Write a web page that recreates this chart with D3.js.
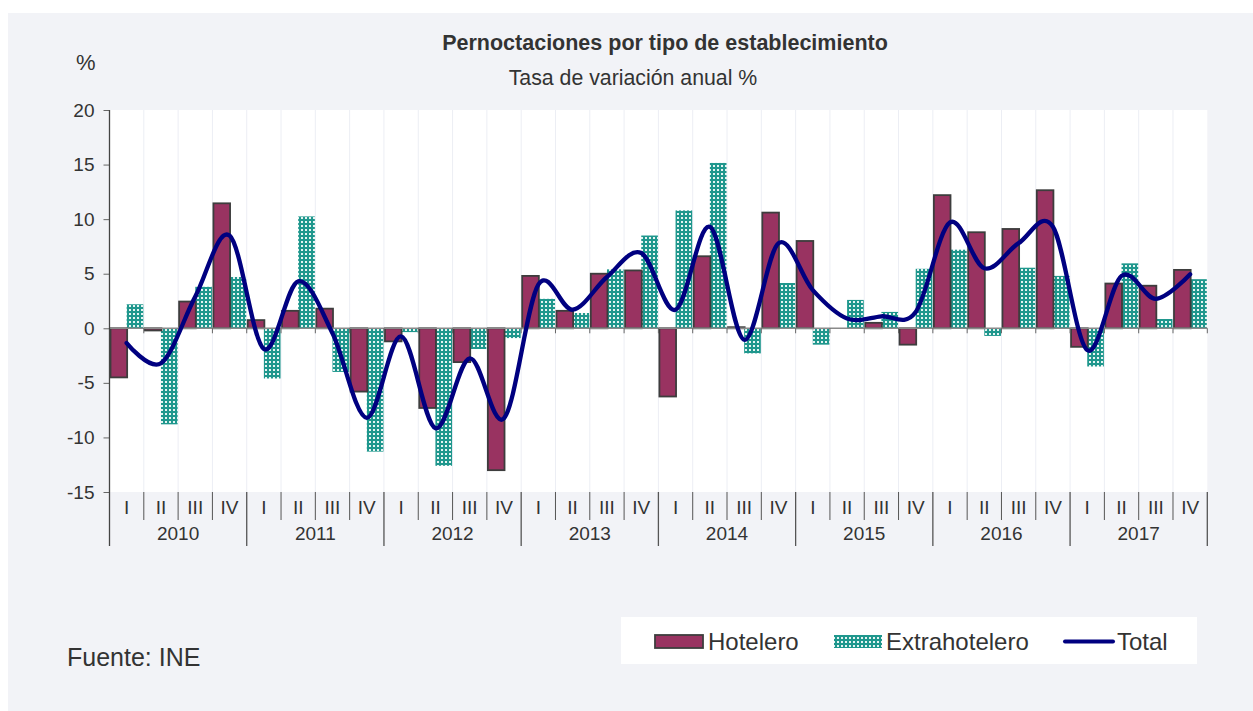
<!DOCTYPE html>
<html>
<head>
<meta charset="utf-8">
<script src="https://cdn.jsdelivr.net/npm/d3@7"></script>
<style>
  body { margin: 0; background: #fff; }
  svg text { font-family: "Liberation Sans", Arial, sans-serif; fill: #333; }
</style>
</head>
<body>
<svg id="chart" width="1253" height="711"></svg>
<script>
var years = ["2010", "2011", "2012", "2013", "2014", "2015", "2016", "2017"];
var quarters = ["I", "II", "III", "IV"];
var hotelero = [
  -4.5, -0.2, 2.45, 11.45,
  0.75, 1.6, 1.8, -5.8,
  -1.2, -7.3, -3.1, -13.0,
  4.8, 1.6, 5.0, 5.3,
  -6.25, 6.6, 0.1, 10.6,
  8.0, 0.0, 0.5, -1.5,
  12.2, 8.8, 9.1, 12.65,
  -1.7, 4.1, 3.9, 5.35
];
var extrahotelero = [
  2.2, -8.8, 3.8, 4.7,
  -4.6, 10.25, -4.0, -11.3,
  -0.35, -12.6, -1.9, -0.9,
  2.7, 1.4, 5.4, 8.5,
  10.8, 15.15, -2.3, 4.15,
  -1.5, 2.6, 1.5, 5.45,
  7.2, -0.7, 5.55, 4.8,
  -3.5, 5.95, 0.85, 4.5
];
var total = [
  -1.35, -3.2, 2.9, 8.5,
  -1.9, 4.3, -0.45, -8.2,
  -0.75, -9.15, -2.75, -8.25,
  4.0, 1.7, 4.7, 6.9,
  1.7, 9.3, -1.05, 7.8,
  3.5, 0.9, 1.1, 1.5,
  9.7, 5.5, 7.8, 9.3,
  -2.0, 4.8, 2.7, 4.95
];
var yTicks = [20, 15, 10, 5, 0, -5, -10, -15];

var svg = d3.select("#chart");
var pLeft = 109.5, pRight = 1207.3, pTop = 110, pBottom = 492;

// fondo
svg.append("rect").attr("x", 8).attr("y", 13).attr("width", 1245).attr("height", 698).attr("fill", "#f2f3f7");
svg.append("rect").attr("x", pLeft).attr("y", pTop).attr("width", pRight - pLeft).attr("height", pBottom - pTop).attr("fill", "#fff");

// patron de puntos
var defs = svg.append("defs");
var pat = defs.append("pattern").attr("id", "dots").attr("patternUnits", "userSpaceOnUse")
  .attr("width", 4).attr("height", 4);
pat.append("rect").attr("width", 4).attr("height", 4).attr("fill", "#1f978d");
pat.append("rect").attr("x", 1).attr("y", 1).attr("width", 2).attr("height", 2).attr("fill", "#e6f4f2");

var idx = d3.range(hotelero.length);
var x = d3.scaleBand().domain(idx).range([pLeft, pRight]).padding(0);
var y = d3.scaleLinear().domain([-15, 20]).range([pBottom, pTop]);
var bw = x.bandwidth();

// rejilla vertical
svg.append("g").selectAll("line").data(idx.slice(1)).join("line")
  .attr("x1", d => x(d)).attr("x2", d => x(d))
  .attr("y1", pTop).attr("y2", pBottom)
  .attr("stroke", "#eceef4").attr("stroke-width", 1);

// barras
svg.append("g").selectAll("rect").data(extrahotelero).join("rect")
  .attr("x", (d, i) => x(i) + bw / 2)
  .attr("width", bw / 2 - 0.5)
  .attr("y", d => y(Math.max(0, d)))
  .attr("height", d => Math.abs(y(d) - y(0)))
  .attr("fill", "url(#dots)");

svg.append("g").selectAll("rect").data(hotelero).join("rect")
  .attr("x", (d, i) => x(i) + 1)
  .attr("width", bw / 2 - 0.5)
  .attr("y", d => y(Math.max(0, d)))
  .attr("height", d => Math.abs(y(d) - y(0)))
  .attr("fill", "#993361")
  .attr("stroke", "#3d3d3d").attr("stroke-width", 1.8);

// linea cero
svg.append("line").attr("x1", pLeft).attr("x2", pRight).attr("y1", y(0)).attr("y2", y(0))
  .attr("stroke", "#8a8a8a").attr("stroke-width", 1.5);
svg.append("g").selectAll("line").data(idx.slice(1).concat([32])).join("line")
  .attr("x1", d => d < 32 ? x(d) : pRight).attr("x2", d => d < 32 ? x(d) : pRight)
  .attr("y1", y(0)).attr("y2", y(0) + 5)
  .attr("stroke", "#666").attr("stroke-width", 1);

// total
var line = d3.line()
  .x((d, i) => x(i) + bw / 2)
  .y(d => y(d))
  .curve(d3.curveCardinal.tension(0));
svg.append("path").datum(total).attr("d", line)
  .attr("fill", "none").attr("stroke", "#000080").attr("stroke-width", 4.3)
  .attr("stroke-linejoin", "round").attr("stroke-linecap", "round");

// eje y
var yAxis = svg.append("g").attr("transform", "translate(" + pLeft + ",0)")
  .call(d3.axisLeft(y).tickValues(yTicks).tickSize(6).tickPadding(9).tickFormat(d => String(d)));
yAxis.select(".domain").remove();
yAxis.selectAll(".tick line").attr("stroke", "#666");
yAxis.selectAll("text").attr("font-size", 19).attr("fill", "#333");
svg.append("line").attr("x1", pLeft).attr("x2", pLeft).attr("y1", pTop).attr("y2", 546)
  .attr("stroke", "#444").attr("stroke-width", 1.3);

// eje x: trimestres y años
var xg = svg.append("g");
xg.selectAll("line.q").data(idx.slice(1).filter(i => i % 4 != 0)).join("line")
  .attr("class", "q")
  .attr("x1", d => x(d)).attr("x2", d => x(d))
  .attr("y1", pBottom).attr("y2", 520)
  .attr("stroke", "#555").attr("stroke-width", 1);
xg.selectAll("line.yr").data(d3.range(1, years.length + 1)).join("line")
  .attr("class", "yr")
  .attr("x1", d => d < years.length ? x(d * 4) : pRight)
  .attr("x2", d => d < years.length ? x(d * 4) : pRight)
  .attr("y1", pBottom).attr("y2", 546)
  .attr("stroke", "#555").attr("stroke-width", 1.3);
xg.selectAll("text.q").data(idx).join("text")
  .attr("class", "q")
  .attr("x", d => x(d) + bw / 2).attr("y", 514)
  .attr("text-anchor", "middle").attr("font-size", 19)
  .text(d => quarters[d % 4]);
xg.selectAll("text.yr").data(years).join("text")
  .attr("class", "yr")
  .attr("x", (d, i) => x(i * 4) + bw * 2).attr("y", 540)
  .attr("text-anchor", "middle").attr("font-size", 19)
  .text(d => d);

// titulos
svg.append("text").attr("x", 665).attr("y", 50).attr("text-anchor", "middle")
  .attr("font-size", 21.5).attr("font-weight", "bold").text("Pernoctaciones por tipo de establecimiento");
svg.append("text").attr("x", 633).attr("y", 85).attr("text-anchor", "middle")
  .attr("font-size", 21.3).text("Tasa de variación anual %");
svg.append("text").attr("x", 76).attr("y", 70).attr("font-size", 22).text("%");
svg.append("text").attr("x", 67).attr("y", 666).attr("font-size", 25).text("Fuente: INE");

// leyenda
var lg = svg.append("g");
lg.append("rect").attr("x", 621).attr("y", 617).attr("width", 576).attr("height", 47).attr("fill", "#fff");
lg.append("rect").attr("x", 655).attr("y", 635).attr("width", 48).attr("height", 13)
  .attr("fill", "#993361").attr("stroke", "#3d3d3d").attr("stroke-width", 1.8);
lg.append("text").attr("x", 708).attr("y", 650).attr("font-size", 24).text("Hotelero");
lg.append("rect").attr("x", 834).attr("y", 635).attr("width", 48).attr("height", 13).attr("fill", "url(#dots)");
lg.append("text").attr("x", 886).attr("y", 650).attr("font-size", 24).text("Extrahotelero");
lg.append("line").attr("x1", 1065).attr("x2", 1113).attr("y1", 641.5).attr("y2", 641.5)
  .attr("stroke", "#000080").attr("stroke-width", 4).attr("stroke-linecap", "round");
lg.append("text").attr("x", 1117).attr("y", 650).attr("font-size", 24).text("Total");
</script>
</body>
</html>
